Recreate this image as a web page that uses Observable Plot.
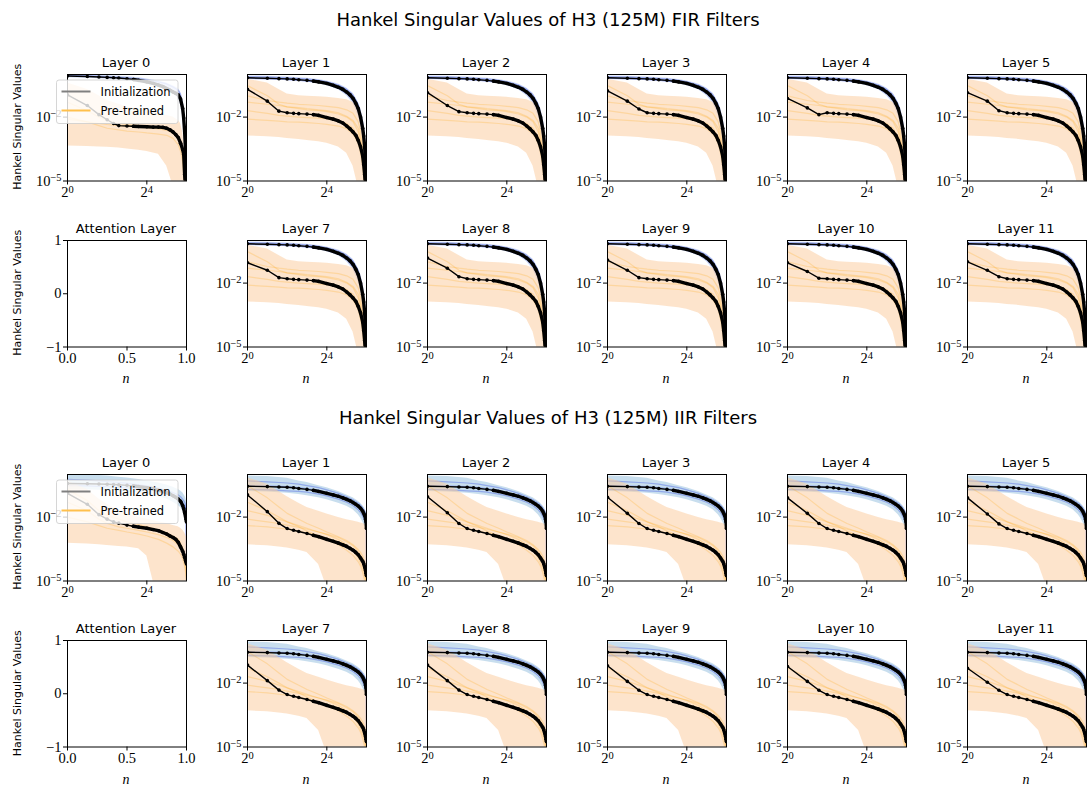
<!DOCTYPE html>
<html><head><meta charset="utf-8">
<script src="https://cdn.jsdelivr.net/npm/d3@7"></script>
<script src="https://cdn.jsdelivr.net/npm/@observablehq/plot@0.6"></script>
<style>
body{margin:0;background:#fff;width:1090px;height:790px;overflow:hidden;}
#root{position:relative;width:1090px;height:790px;overflow:hidden;}
#root>svg{position:absolute;}
</style></head><body><div id="root"></div>
<script>
// ---------- data ----------
const nKey  = [1,2,3,4,5,6,8,10,12,16,20,24,28,32,36,40,44,48,52,56,58,60,62,63,64];
const nBand = [1,2,3,4,6,8,12,16,24,32,40,48,52,56,60,62,64];

const rowLayers = [
  ["Layer 0","Layer 1","Layer 2","Layer 3","Layer 4","Layer 5"],
  ["Attention Layer","Layer 7","Layer 8","Layer 9","Layer 10","Layer 11"]
];
const sectionTitles = ["Hankel Singular Values of H3 (125M) FIR Filters","Hankel Singular Values of H3 (125M) IIR Filters"];
const legendLabels = ["Initialization","Pre-trained"];
const logXTicks = [1,16];
const logYTicks = [1e-5,1e-2];
const attnXTicks = [0,0.5,1];
const attnYTicks = [-1,0,1];

// FIR, layers 1-11 (typical)
const firInitMean = [0.7,0.67,0.64,0.62,0.6,0.57,0.53,0.49,0.45,0.38,0.31,0.25,0.2,0.15,0.11,0.075,0.045,0.025,0.01,0.003,0.0013,4e-4,5e-5,1e-5,1e-7];
const firPreMean  = [0.17,0.045,0.019,0.016,0.015,0.0145,0.0138,0.013,0.012,0.0095,0.008,0.0066,0.0053,0.0038,0.0028,0.002,0.0014,8e-4,4e-4,1.5e-4,6e-5,2e-5,4e-6,1e-6,1e-7];
// pre-trained mean at n = 1, 2, 3 for each FIR layer
const firPreHead = {
  "Layer 1": [0.2,0.056,0.019], "Layer 2": [0.14,0.035,0.018], "Layer 3": [0.17,0.056,0.024],
  "Layer 4": [0.075,0.027,0.013], "Layer 5": [0.14,0.056,0.02], "Layer 7": [0.09,0.04,0.018],
  "Layer 8": [0.15,0.05,0.02], "Layer 9": [0.12,0.04,0.018], "Layer 10": [0.09,0.035,0.017],
  "Layer 11": [0.1,0.04,0.02]
};
const firInitHigh = [0.85,0.82,0.79,0.76,0.71,0.67,0.58,0.5,0.36,0.23,0.13,0.05,0.022,0.008,0.0015,3e-4,1e-6];
const firInitLow  = [0.6,0.57,0.54,0.52,0.48,0.44,0.37,0.3,0.19,0.1,0.045,0.012,0.004,0.001,1e-4,1e-5,1e-7];
const firPreHigh  = [0.6,0.4,0.2,0.12,0.1,0.095,0.09,0.085,0.075,0.065,0.05,0.025,0.012,0.004,1e-4,1e-5,1e-7];
const firPreLow   = [0.0013,0.0012,0.0011,0.001,9e-4,8e-4,7e-4,6e-4,4e-4,2e-4,5e-5,5e-6,1e-6,1e-7,1e-7,1e-7,1e-7];
const firPreLines = [
  [0.3,0.1,0.04,0.03,0.025,0.022,0.02,0.018,0.014,0.01,0.006,0.002,6e-4,1.5e-4,1e-5,1e-6,1e-7],
  [0.02,0.015,0.012,0.011,0.01,0.0095,0.009,0.0085,0.007,0.005,0.003,0.0012,5e-4,1e-4,1e-5,1e-6,1e-7],
  [0.008,0.007,0.0065,0.006,0.0058,0.0055,0.005,0.0046,0.0038,0.0028,0.0016,6e-4,2e-4,5e-5,5e-6,5e-7,1e-7],
  [0.05,0.04,0.035,0.03,0.028,0.025,0.022,0.02,0.016,0.011,0.007,0.003,0.001,2e-4,2e-5,2e-6,1e-7],
  [0.1,0.06,0.05,0.045,0.04,0.038,0.035,0.032,0.028,0.022,0.015,0.006,0.002,4e-4,3e-5,1e-6,1e-7]
];
const firInitLines = [
  [0.78,0.75,0.72,0.7,0.65,0.61,0.53,0.45,0.32,0.2,0.11,0.04,0.017,0.006,0.001,2e-4,1e-6],
  [0.65,0.62,0.6,0.57,0.53,0.49,0.42,0.35,0.23,0.13,0.06,0.018,0.007,0.002,2e-4,2e-5,1e-7]
];

// FIR, layer 0
const fir0InitMean = [0.85,0.8,0.76,0.73,0.7,0.68,0.63,0.58,0.53,0.45,0.38,0.32,0.27,0.22,0.18,0.15,0.13,0.11,0.07,0.025,0.009,0.002,2e-4,3e-5,1e-7];
const fir0PreMean  = [0.11,0.035,0.013,0.0075,0.005,0.004,0.0038,0.0037,0.0036,0.0035,0.0034,0.0034,0.0033,0.003,0.0025,0.002,0.0015,0.0011,6e-4,3e-4,1.8e-4,2e-5,3e-6,1e-6,1e-7];
const fir0InitHigh = [1.0,0.95,0.9,0.87,0.82,0.78,0.7,0.62,0.5,0.4,0.3,0.22,0.15,0.06,0.008,0.001,1e-6];
const fir0InitLow  = [0.7,0.66,0.63,0.6,0.56,0.52,0.44,0.37,0.27,0.19,0.13,0.08,0.04,0.012,8e-4,5e-5,1e-7];
const fir0PreHigh  = [0.4,0.2,0.1,0.06,0.04,0.03,0.025,0.02,0.015,0.012,0.01,0.007,0.005,0.002,2e-4,2e-5,1e-7];
const fir0PreLow   = [4.4e-4,4.2e-4,4e-4,3.8e-4,3.5e-4,3.2e-4,2.8e-4,2.4e-4,1.8e-4,5e-5,6e-6,1e-7,1e-7,1e-7,1e-7,1e-7,1e-7];
const fir0PreLines = [
  [0.05,0.02,0.01,0.007,0.005,0.0045,0.004,0.0038,0.0034,0.003,0.0022,0.0012,7e-4,3e-4,3e-5,3e-6,1e-7],
  [0.01,0.006,0.004,0.003,0.0025,0.0022,0.002,0.0018,0.0016,0.0014,0.001,5e-4,2.5e-4,8e-5,5e-6,1e-6,1e-7],
  [0.008,0.006,0.005,0.0045,0.004,0.0038,0.0035,0.0032,0.0028,0.0024,0.0018,0.001,5e-4,1.5e-4,1e-5,1e-6,1e-7]
];
const fir0InitLines = [
  [0.9,0.86,0.82,0.78,0.74,0.7,0.63,0.56,0.45,0.36,0.26,0.18,0.12,0.04,0.004,4e-4,1e-7]
];

// IIR, layers 1-11 (typical)
const iirInitMean = [0.28,0.27,0.26,0.25,0.24,0.22,0.2,0.18,0.16,0.13,0.11,0.095,0.08,0.068,0.058,0.048,0.04,0.033,0.026,0.019,0.015,0.012,0.008,0.006,0.003];
const iirPreMean  = [0.075,0.014,0.0048,0.0029,0.0024,0.0021,0.0017,0.0014,0.0012,9e-4,7.3e-4,6e-4,5e-4,4.2e-4,3.4e-4,2.8e-4,2.2e-4,1.7e-4,1.2e-4,8.5e-5,6.5e-5,4.5e-5,3e-5,2.3e-5,1.8e-5];
// pre-trained mean at n = 1, 2, 3 for each IIR layer
const iirPreHead = {
  "Layer 1": [0.11,0.018,0.0051], "Layer 2": [0.09,0.016,0.005], "Layer 3": [0.085,0.015,0.005],
  "Layer 4": [0.08,0.015,0.005], "Layer 5": [0.08,0.014,0.0048], "Layer 7": [0.07,0.013,0.0047],
  "Layer 8": [0.07,0.013,0.0047], "Layer 9": [0.065,0.012,0.0046], "Layer 10": [0.06,0.012,0.0046],
  "Layer 11": [0.05,0.011,0.0046]
};
const iirInitHigh = [0.85,0.8,0.72,0.66,0.5,0.42,0.3,0.24,0.16,0.11,0.08,0.055,0.045,0.035,0.026,0.02,0.016];
const iirInitLow  = [0.16,0.15,0.14,0.13,0.115,0.1,0.08,0.066,0.045,0.032,0.022,0.013,0.009,0.006,0.0035,0.0028,0.0025];
const iirPreHigh  = [0.7,0.35,0.16,0.09,0.045,0.028,0.019,0.014,0.0095,0.0075,0.0065,0.0058,0.0053,0.005,0.0046,0.0044,0.0042];
const iirPreLow   = [5e-4,4.5e-4,4e-4,3.5e-4,2.8e-4,2.2e-4,6e-5,5e-6,1e-7,1e-7,1e-7,1e-7,1e-7,1e-7,1e-7,1e-7,1e-7];
const iirPreLines = [
  [0.3,0.08,0.03,0.015,0.008,0.005,0.003,0.002,0.0012,8e-4,5e-4,3e-4,2.2e-4,1.5e-4,8e-5,5e-5,2e-5],
  [0.02,0.012,0.008,0.006,0.004,0.003,0.002,0.0015,9e-4,5e-4,2.5e-4,1.2e-4,7e-5,4e-5,2e-5,1e-5,4e-6],
  [0.008,0.006,0.005,0.0042,0.0033,0.0027,0.002,0.0016,0.0011,7e-4,4.5e-4,2.5e-4,1.6e-4,9e-5,4e-5,2e-5,6e-6],
  [0.05,0.02,0.01,0.006,0.0035,0.0022,0.0013,9e-4,5e-4,2.8e-4,1.6e-4,8e-5,5e-5,2.5e-5,1e-5,5e-6,1e-6],
  [0.004,0.0035,0.003,0.0027,0.0022,0.0018,0.0013,0.001,7e-4,4.5e-4,3e-4,1.8e-4,1.2e-4,7e-5,3e-5,1.5e-5,5e-6]
];
const iirInitLines = [
  [0.5,0.45,0.42,0.4,0.35,0.3,0.24,0.19,0.13,0.09,0.065,0.045,0.036,0.028,0.02,0.015,0.01],
  [0.3,0.29,0.28,0.27,0.24,0.22,0.18,0.14,0.1,0.07,0.05,0.035,0.027,0.02,0.014,0.01,1e-6],
  [0.2,0.19,0.18,0.17,0.16,0.15,0.12,0.1,0.07,0.05,0.035,0.022,0.016,0.011,0.007,0.005,0.003]
];

// IIR, layer 0
const iir0InitMean = [0.38,0.37,0.36,0.35,0.34,0.33,0.31,0.29,0.27,0.24,0.21,0.18,0.16,0.14,0.12,0.1,0.085,0.07,0.055,0.035,0.025,0.016,0.01,0.008,0.006];
const iir0PreMean  = [0.13,0.04,0.013,0.008,0.006,0.0052,0.0042,0.0037,0.0034,0.003,0.0026,0.0023,0.0019,0.0016,0.0013,0.0011,9e-4,6.5e-4,4e-4,2.5e-4,1.8e-4,1.3e-4,9e-5,8e-5,6.5e-5];
const iir0InitHigh = [1.0,0.95,0.9,0.85,0.75,0.68,0.58,0.5,0.4,0.32,0.25,0.2,0.17,0.14,0.1,0.08,0.06];
const iir0InitLow  = [0.2,0.19,0.18,0.17,0.16,0.15,0.13,0.11,0.09,0.07,0.05,0.035,0.028,0.02,0.012,0.008,0.005];
const iir0PreHigh  = [0.5,0.2,0.07,0.04,0.02,0.014,0.01,0.008,0.006,0.005,0.004,0.0035,0.003,0.0025,0.0018,0.0015,0.0012];
const iir0PreLow   = [6e-4,5.5e-4,5e-4,4.6e-4,4.2e-4,3.9e-4,3.3e-4,1.5e-4,1e-6,1e-7,1e-7,1e-7,1e-7,1e-7,1e-7,1e-7,1e-7];
const iir0PreLines = [
  [0.05,0.02,0.008,0.005,0.0035,0.003,0.0024,0.002,0.0015,0.0011,8e-4,5e-4,3.5e-4,2e-4,8e-5,4e-5,1.5e-5],
  [0.01,0.006,0.004,0.003,0.0024,0.002,0.0016,0.0013,9e-4,6e-4,4e-4,2.5e-4,1.8e-4,1.1e-4,5e-5,2.5e-5,8e-6],
  [0.2,0.06,0.02,0.012,0.008,0.006,0.0045,0.0035,0.0025,0.0018,0.0013,9e-4,6e-4,3.5e-4,1.5e-4,8e-5,3e-5]
];
const iir0InitLines = [
  [0.6,0.55,0.5,0.47,0.42,0.38,0.33,0.29,0.23,0.18,0.14,0.11,0.09,0.07,0.05,0.04,1e-6],
  [0.3,0.29,0.28,0.27,0.25,0.24,0.21,0.19,0.16,0.13,0.1,0.08,0.065,0.05,0.035,0.028,0.02]
];

// ---------- assemble ----------
const mk = (initMean, preMean, initHigh, initLow, preHigh, preLow, initLines, preLines) =>
  ({initMean, preMean, initHigh, initLow, preHigh, preLow, initLines, preLines});
const sets = [
  {layer0: mk(fir0InitMean,fir0PreMean,fir0InitHigh,fir0InitLow,fir0PreHigh,fir0PreLow,fir0InitLines,fir0PreLines),
   other:  mk(firInitMean,firPreMean,firInitHigh,firInitLow,firPreHigh,firPreLow,firInitLines,firPreLines),
   head: firPreHead},
  {layer0: mk(iir0InitMean,iir0PreMean,iir0InitHigh,iir0InitLow,iir0PreHigh,iir0PreLow,iir0InitLines,iir0PreLines),
   other:  mk(iirInitMean,iirPreMean,iirInitHigh,iirInitLow,iirPreHigh,iirPreLow,iirInitLines,iirPreLines),
   head: iirPreHead}
];

const colX = [66.5,246.5,426.5,606.5,786.5,966.5];
const rowY = [[73.5,239.5],[473.5,640]];
const PW = 119, PH = 106.5, ML = 58, MR = 8, MT = 6, MB = 30;
const root = document.getElementById("root");
const serif = "'Liberation Serif', 'DejaVu Serif', serif";
const sans = "'DejaVu Sans', sans-serif";

const common = {
  width: ML+PW+MR, height: MT+PH+MB,
  marginLeft: ML, marginRight: MR, marginTop: MT, marginBottom: MB,
  style: {fontFamily: serif, fontSize: "14px", background: "transparent", overflow: "visible", color: "black"}
};

function fixTicks(svg) {
  svg.querySelectorAll("text").forEach(t => {
    t.setAttribute("font-family", serif);
    t.setAttribute("font-size", "14.5px");
    t.style.fontFamily = serif;
    t.style.fontSize = "14.5px";
    t.setAttribute("fill", "black");
    const s = t.textContent;
    const m = s.match(/^(\d+)\^(.+)$/);
    if (!m) return;
    t.textContent = "";
    const a = document.createElementNS("http://www.w3.org/2000/svg","tspan");
    a.textContent = m[1];
    const b = document.createElementNS("http://www.w3.org/2000/svg","tspan");
    b.textContent = m[2];
    b.setAttribute("dy","-0.45em");
    b.setAttribute("font-size","0.72em");
    t.appendChild(a); t.appendChild(b);
  });
  svg.querySelectorAll("g[aria-label$='tick'] path, g[aria-label$='tick'] line").forEach(p => p.setAttribute("stroke","black"));
}

function logPanel(ds, iir) {
  const mean = nKey.map((n,i) => ({n, init: ds.initMean[i], pre: ds.preMean[i]}));
  const band = nBand.map((n,i) => ({n, iL: ds.initLow[i], iH: ds.initHigh[i], pL: ds.preLow[i], pH: ds.preHigh[i]}));
  const rowsOf = arrs => arrs.flatMap((a,k) => nBand.map((n,i) => ({n, v: a[i], k})));
  const thick = mean.filter(d => d.n >= 10);
  return Plot.plot({
    ...common,
    x: {type: "log", base: 2, domain: [1,64], ticks: logXTicks, tickFormat: d => "2^" + Math.round(Math.log2(d)), tickSize: 4, tickPadding: 2, label: null},
    y: {type: "log", domain: [1e-5,1], ticks: logYTicks, tickFormat: d => "10^\u2212" + Math.round(-Math.log10(d)), tickSize: 4, tickPadding: 2, label: null},
    marks: [
      Plot.areaY(band, {x: "n", y1: "iL", y2: "iH", fill: iir ? "#a3c8e3" : "#a8bdf0", fillOpacity: 0.6, clip: true}),
      Plot.line(rowsOf(ds.initLines), {x: "n", y: "v", z: "k", stroke: "#2a45e0", strokeOpacity: 0.35, strokeWidth: 1.2, clip: true}),
      Plot.areaY(band, {x: "n", y1: "pL", y2: "pH", fill: "#fccb9e", fillOpacity: 0.52, clip: true}),
      Plot.line(rowsOf(ds.preLines), {x: "n", y: "v", z: "k", stroke: "#ffa500", strokeOpacity: 0.22, strokeWidth: 1.2, clip: true}),
      Plot.line(mean, {x: "n", y: "init", stroke: "black", strokeWidth: 1.4, clip: true}),
      Plot.line(thick, {x: "n", y: "init", stroke: "black", strokeWidth: 3.4, clip: true}),
      Plot.dot(mean, {x: "n", y: "init", r: 1.8, fill: "black", clip: true}),
      Plot.line(mean, {x: "n", y: "pre", stroke: "black", strokeWidth: 1.4, clip: true}),
      Plot.line(thick, {x: "n", y: "pre", stroke: "black", strokeWidth: 3.4, clip: true}),
      Plot.dot(mean, {x: "n", y: "pre", r: 1.8, fill: "black", clip: true}),
      Plot.frame({stroke: "black", strokeWidth: 1})
    ]
  });
}

function attnPanel() {
  return Plot.plot({
    ...common,
    x: {domain: [0,1], ticks: attnXTicks, tickFormat: d3.format(".1f"), tickSize: 4, tickPadding: 2, label: null},
    y: {domain: [-1,1], ticks: attnYTicks, tickFormat: d => d < 0 ? "\u2212" + (-d) : String(d), tickSize: 4, tickPadding: 2, label: null},
    marks: [Plot.frame({stroke: "black", strokeWidth: 1})]
  });
}

sets.forEach((set, s) => {
  rowLayers.forEach((names, r) => {
    names.forEach((name, c) => {
      let svg;
      if (r === 1 && c === 0) svg = attnPanel();
      else if (r === 0 && c === 0) svg = logPanel(set.layer0, s === 1);
      else {
        const ds = {...set.other, preMean: set.head[name].concat(set.other.preMean.slice(3))};
        svg = logPanel(ds, s === 1);
      }
      fixTicks(svg);
      svg.style.left = (colX[c] - ML) + "px";
      svg.style.top = (rowY[s][r] - MT) + "px";
      root.appendChild(svg);
    });
  });
});

// ---------- overlay text & legends ----------
const ov = d3.select(root).append("svg").attr("width",1090).attr("height",790).style("left","0px").style("top","0px");
const titleBase = [26, 424];
sectionTitles.forEach((t,s) => {
  ov.append("text").attr("x",548).attr("y",titleBase[s]).attr("text-anchor","middle")
    .attr("font-family",sans).attr("font-size",18).text(t);
});
sets.forEach((set,s) => {
  rowLayers.forEach((names,r) => {
    const top = rowY[s][r];
    names.forEach((name,c) => {
      ov.append("text").attr("x",colX[c]+PW/2).attr("y",top-7).attr("text-anchor","middle")
        .attr("font-family",sans).attr("font-size",13).text(name);
      if (r === 1) {
        ov.append("text").attr("x",colX[c]+PW/2).attr("y",top+PH+37).attr("text-anchor","middle")
          .attr("font-family",serif).attr("font-style","italic").attr("font-size",14).text("n");
      }
    });
    ov.append("text").attr("transform",`translate(20.5,${top+PH/2}) rotate(-90)`).attr("text-anchor","middle")
      .attr("font-family",sans).attr("font-size",11).text("Hankel Singular Values");
  });
  // legend in Layer 0 panel
  const ly = rowY[s][0] + 6.5;
  const g = ov.append("g").attr("transform",`translate(56.5,${ly})`);
  g.append("rect").attr("width",121.5).attr("height",43.5).attr("rx",2.5)
    .attr("fill","white").attr("fill-opacity",0.8).attr("stroke","#cccccc").attr("stroke-width",0.8);
  const cols = ["#808080","#ffc04d"];
  legendLabels.forEach((lab,i) => {
    const yy = 11.5 + i*19;
    g.append("line").attr("x1",5).attr("x2",34).attr("y1",yy).attr("y2",yy).attr("stroke",cols[i]).attr("stroke-width",2);
    g.append("text").attr("x",44).attr("y",yy+4).attr("font-family",sans).attr("font-size",11.5).text(lab);
  });
});
</script></body></html>
